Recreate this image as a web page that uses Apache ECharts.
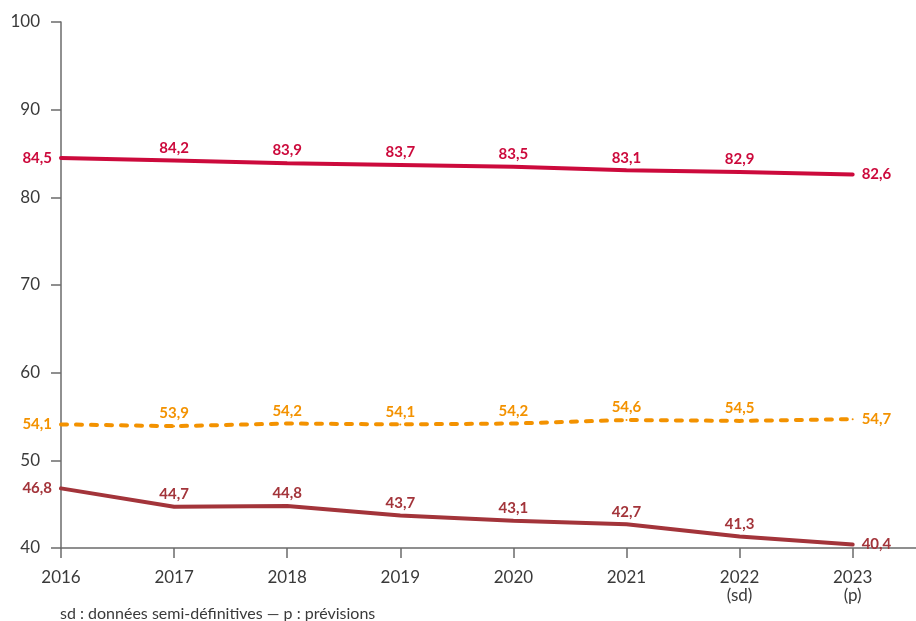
<!DOCTYPE html>
<html><head><meta charset="utf-8">
<script src="https://cdn.jsdelivr.net/npm/echarts@6/dist/echarts.min.js"></script>
<style>html,body{margin:0;padding:0;background:#fff}#c{width:916px;height:621px}</style>
</head><body><div id="c"></div>
<script>
const years = [2016, 2017, 2018, 2019, 2020, 2021, 2022, 2023];
const yearLabels = ['2016', '2017', '2018', '2019', '2020', '2021', '2022\n(sd)', '2023\n(p)'];
const yTicks = [40, 50, 60, 70, 80, 90, 100];
const seriesRed = [84.5, 84.2, 83.9, 83.7, 83.5, 83.1, 82.9, 82.6];
const seriesOrange = [54.1, 53.9, 54.2, 54.1, 54.2, 54.6, 54.5, 54.7];
const seriesDark = [46.8, 44.7, 44.8, 43.7, 43.1, 42.7, 41.3, 40.4];
const footnote = 'sd : données semi-définitives — p : prévisions';

const FONT = 'Lato';
const chart = echarts.init(document.getElementById('c'), null, {renderer: 'canvas'});

function labelFor(color) {
  return {
    show: true,
    color: color,
    fontFamily: FONT,
    fontWeight: 'bold',
    fontSize: 15,
    formatter: p => String(p.value[1]).replace('.', ','),
    position: 'top',
    distance: 4
  };
}
function mkSeries(vals, color, lineStyle, lastPad) {
  const n = vals.length;
  return {
    type: 'line',
    data: vals.map((v, i) => {
      const d = {value: [years[i], v]};
      if (i === 0) d.label = {position: 'left', distance: 8};
      if (i === n - 1) d.label = {position: 'right', distance: 8, padding: [0, 0, lastPad, 0]};
      return d;
    }),
    symbol: 'circle',
    showSymbol: true,
    showAllSymbol: true,
    symbolSize: 2,
    itemStyle: {color: color},
    lineStyle: Object.assign({color: color, width: 4, cap: 'round'}, lineStyle),
    label: labelFor(color),
    labelLayout: {hideOverlap: false},
    z: 3,
    animation: false
  };
}

const yearMap = {};
years.forEach((y, i) => yearMap[y] = yearLabels[i]);

chart.setOption({
  animation: false,
  grid: {left: 61, right: 0, top: 22, bottom: 73, containLabel: false},
  xAxis: {
    type: 'value',
    min: 2016,
    max: 2023.56,
    interval: 1,
    axisLine: {show: true, onZero: false, lineStyle: {color: '#6b6b6b', width: 1.5}},
    axisTick: {show: true, inside: false, length: 10, lineStyle: {color: '#6b6b6b', width: 1.5}, customValues: years},
    axisLabel: {
      customValues: years,
      formatter: v => yearMap[Math.round(v)] || '',
      color: '#3a3a3a', fontFamily: FONT, fontSize: 17, margin: 21, lineHeight: 18
    },
    splitLine: {show: false}
  },
  yAxis: {
    type: 'value',
    position: 'left',
    min: 40,
    max: 100,
    interval: 10,
    axisLine: {show: true, onZero: false, lineStyle: {color: '#6b6b6b', width: 1.5}},
    axisTick: {show: true, inside: false, length: 10, lineStyle: {color: '#6b6b6b', width: 1.5}},
    axisLabel: {color: '#3a3a3a', fontFamily: FONT, fontSize: 17, margin: 21, padding: [0, 0, 8, 0]},
    splitLine: {show: false}
  },
  series: [
    mkSeries(seriesRed, '#cc0a3c', {type: 'solid'}, 6),
    mkSeries(seriesOrange, '#f39200', {type: [6, 9], width: 4}, 2),
    mkSeries(seriesDark, '#a3343a', {type: 'solid'}, 12)
  ],
  graphic: [{
    type: 'text', left: 60, top: 606,
    style: {text: footnote, fill: '#3a3a3a', font: '16px ' + FONT}
  }]
});
</script></body></html>
